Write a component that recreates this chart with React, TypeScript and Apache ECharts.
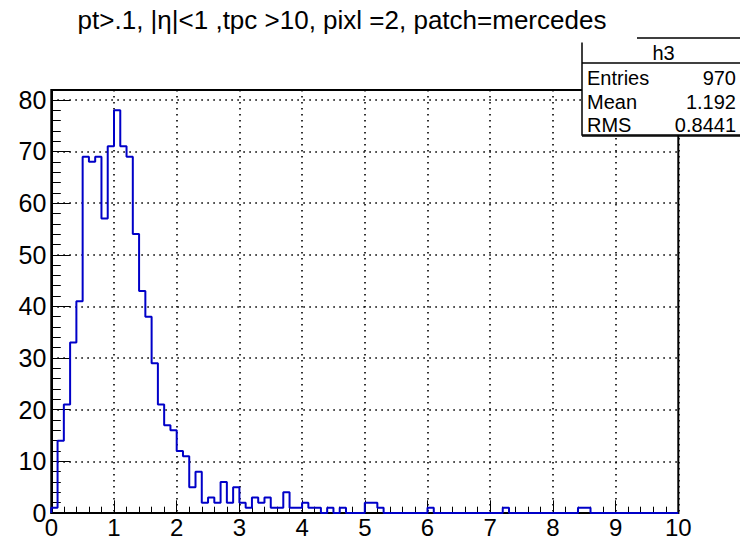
import React, { useEffect, useRef } from "react";
import * as echarts from "echarts";

// Histogram h3: 100 bins of width 0.1 from 0 to 10
const binWidth = 0.1;
const xMin = 0;
const xMax = 10;
const counts: number[] = [
  1, 14, 21, 33, 41, 69, 68, 69, 57, 71,
  78, 71, 69, 54, 43, 38, 29, 21, 17, 16,
  12, 11, 5, 8, 2, 3, 2, 6, 2, 5,
  2, 1, 3, 2, 3, 1, 1, 4, 1, 1,
  2, 1, 1, 0, 1, 0, 1, 0, 0, 0,
  2, 2, 1, 0, 0, 0, 0, 0, 0, 0,
  1, 0, 0, 0, 0, 0, 0, 0, 0, 0,
  0, 0, 1, 0, 0, 0, 0, 0, 0, 0,
  0, 0, 0, 0, 1, 1, 0, 0, 0, 0,
  0, 0, 0, 0, 0, 0, 0, 0, 0, 0,
];
const yMax = 81.9;
const titleText = "pt>.1, |η|<1 ,tpc >10, pixl =2, patch=mercedes";
const statsName = "h3";
const statsLabels = ["Entries", "Mean", "RMS"];
const statsValues = ["970", "1.192", "0.8441"];

const FONT = "'Liberation Sans', Arial, Helvetica, sans-serif";

export default function App() {
  const ref = useRef<HTMLDivElement>(null);
  useEffect(() => {
    if (!ref.current) return;
    const chart = echarts.init(ref.current, undefined, { renderer: "svg" });
    const pts: number[][] = [[xMin, 0]];
    counts.forEach((c, i) => pts.push([Math.round((xMin + i * binWidth) * 10) / 10, c]));
    pts.push([xMax, 0]);

    const statsRows: any[] = [];
    const rowY = [78, 101.5, 125];
    statsLabels.forEach((l, i) => {
      statsRows.push({
        type: "text",
        z: 110,
        style: { text: l, x: 587, y: rowY[i], fill: "#000", font: `20px ${FONT}`, textAlign: "left", textVerticalAlign: "middle" },
      });
      statsRows.push({
        type: "text",
        z: 110,
        style: { text: statsValues[i], x: 736, y: rowY[i], fill: "#000", font: `20px ${FONT}`, textAlign: "right", textVerticalAlign: "middle" },
      });
    });

    const gridDots = { color: "#000", width: 1.6, type: [1.6, 4.4] as any };

    chart.setOption({
      animation: false,
      backgroundColor: "#fff",
      grid: {
        left: 51.3,
        right: 61.7,
        top: 90,
        bottom: 29,
        show: true,
        borderColor: "#000",
        borderWidth: 2,
        backgroundColor: "transparent",
      },
      xAxis: {
        type: "value",
        min: xMin,
        max: xMax,
        interval: 1,
        axisLine: { show: true, onZero: false, lineStyle: { color: "#000", width: 2 } },
        axisTick: { show: true, inside: true, length: 12.7, lineStyle: { color: "#000", width: 1 } },
        minorTick: { show: true, splitNumber: 5, length: 6.3, lineStyle: { color: "#000", width: 1 } },
        splitLine: { show: true, lineStyle: gridDots },
        axisLabel: { color: "#000", fontSize: 24, fontFamily: FONT, margin: 2 },
      },
      yAxis: [
        {
          type: "value",
          min: 0,
          max: yMax,
          interval: 10,
          position: "left",
          axisLine: { show: true, onZero: false, lineStyle: { color: "#000", width: 2 } },
          axisTick: { show: true, inside: true, length: 19, lineStyle: { color: "#000", width: 1 } },
          splitLine: { show: true, lineStyle: gridDots },
          axisLabel: {
            color: "#000",
            fontSize: 25,
            fontFamily: FONT,
            margin: 5,
            formatter: (v: number) => (Math.abs(v % 10) < 1e-6 ? String(v) : ""),
          },
        },
        {
          type: "value",
          min: 0,
          max: yMax,
          interval: 2,
          position: "left",
          offset: 0,
          axisLine: { show: false },
          axisTick: { show: true, inside: true, length: 9.5, lineStyle: { color: "#000", width: 1 } },
          splitLine: { show: false },
          axisLabel: { show: false },
        },
      ],
      series: [
        {
          type: "line",
          step: "end",
          data: pts,
          symbol: "none",
          yAxisIndex: 0,
          lineStyle: { color: "#0000c8", width: 2 },
          z: 5,
        },
      ],
      graphic: [
        {
          type: "rect",
          z: 100,
          shape: { x: 582, y: 38, width: 170, height: 97 },
          style: { fill: "#fff", stroke: "#000", lineWidth: 1.5 },
        },
        {
          type: "line",
          z: 101,
          shape: { x1: 582, y1: 136, x2: 745, y2: 136 },
          style: { stroke: "#000", lineWidth: 1.5 },
        },
        {
          type: "line",
          z: 101,
          shape: { x1: 582, y1: 63, x2: 745, y2: 63 },
          style: { stroke: "#000", lineWidth: 1.5 },
        },
        {
          type: "rect",
          z: 102,
          shape: { x: 40, y: 0, width: 597, height: 42.5 },
          style: { fill: "#fff", stroke: null },
        },
        {
          type: "text",
          z: 110,
          style: { text: statsName, x: 663.5, y: 52.5, fill: "#000", font: `20px ${FONT}`, textAlign: "center", textVerticalAlign: "middle" },
        },
        ...statsRows,
        {
          type: "text",
          z: 110,
          style: { text: titleText, x: 342, y: 20, fill: "#000", font: `26px ${FONT}`, textAlign: "center", textVerticalAlign: "middle" },
        },
      ],
    });
    return () => chart.dispose();
  }, []);
  return <div ref={ref} style={{ position: "absolute", left: 0, top: 0, width: 740, height: 542 }} />;
}
